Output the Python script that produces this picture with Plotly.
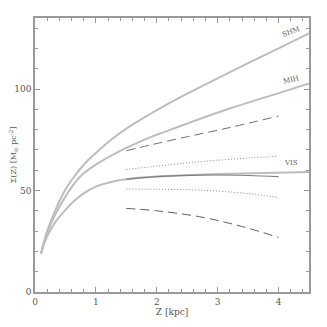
import plotly.graph_objects as go

# Main model curves
z_shm = [0.1, 0.15, 0.2, 0.33, 0.5, 0.66, 0.8, 1.0, 1.25, 1.5, 1.89, 2.14, 2.5, 3.21, 4.0, 4.5]
sig_shm = [19, 25, 30, 40, 50.5, 57.5, 62.7, 68.5, 75, 80.5, 87.7, 92, 97.7, 108.5, 120, 127.4]

z_mih = [0.1, 0.15, 0.2, 0.33, 0.5, 0.66, 0.8, 1.0, 1.32, 1.5, 1.89, 2.14, 2.5, 3.21, 4.0, 4.5]
sig_mih = [19, 24.5, 29, 38, 47, 54, 58.5, 62.8, 68.3, 71, 76.2, 79, 83, 90.5, 98, 102.8]

z_vis = [0.1, 0.15, 0.2, 0.33, 0.5, 0.66, 0.8, 1.0, 1.32, 1.5, 2.14, 3.04, 4.5]
sig_vis = [19, 23.8, 27.5, 34.3, 40.5, 45.3, 48.6, 51.9, 54.7, 55.6, 57.1, 58.1, 59.1]

# Observed band (1.5 - 4 kpc)
z_obs = [1.5, 2.0, 2.7, 3.5, 4.0]
sig_obs = [55.5, 56.8, 57.6, 57.4, 56.8]
sig_dot_hi = [60.4, 62, 64.2, 66, 67]
sig_dot_lo = [50.7, 50.6, 50.2, 48.5, 46.6]

z_dash_hi = [1.5, 1.89, 2.5, 3.21, 4.0]
sig_dash_hi = [69.6, 72.4, 76.5, 81.1, 86.7]
z_dash_lo = [1.5, 2.0, 2.7, 3.37, 4.0]
sig_dash_lo = [41.2, 40, 37.1, 32.5, 26.9]

curve_col = '#bdbdbd'
font_fam = 'DejaVu Serif'

fig = go.Figure()

for zz, ss in [(z_shm, sig_shm), (z_mih, sig_mih), (z_vis, sig_vis)]:
    fig.add_trace(go.Scatter(x=zz, y=ss, mode='lines',
                             line=dict(color=curve_col, width=2, shape='spline', smoothing=1.0),
                             showlegend=False, hoverinfo='skip'))

fig.add_trace(go.Scatter(x=z_dash_hi, y=sig_dash_hi, mode='lines',
                         line=dict(color='#707070', width=1, dash='9px,5px', shape='spline'),
                         showlegend=False))
fig.add_trace(go.Scatter(x=z_dash_lo, y=sig_dash_lo, mode='lines',
                         line=dict(color='#606060', width=1, dash='9px,5px', shape='spline'),
                         showlegend=False))
fig.add_trace(go.Scatter(x=z_obs, y=sig_dot_hi, mode='lines',
                         line=dict(color='#8a8a8a', width=1, dash='1px,2px', shape='spline'),
                         showlegend=False))
fig.add_trace(go.Scatter(x=z_obs, y=sig_dot_lo, mode='lines',
                         line=dict(color='#8a8a8a', width=1, dash='1px,2px', shape='spline'),
                         showlegend=False))
fig.add_trace(go.Scatter(x=z_obs, y=sig_obs, mode='lines',
                         line=dict(color='#808080', width=1.2, shape='spline'),
                         showlegend=False))

labels = [('SHM', 4.2, 128, -20), ('MIH', 4.2, 104.5, -13), ('VIS', 4.2, 63.5, 0)]
for txt, lx, ly, ang in labels:
    fig.add_annotation(x=lx, y=ly, text=txt, showarrow=False, textangle=ang,
                       font=dict(family=font_fam, size=7, color='#666666'))

axis_common = dict(showline=True, linecolor='#9a9a9a', linewidth=1.5, mirror='ticks',
                   ticks='inside', ticklen=5, tickcolor='#9a9a9a', showgrid=False,
                   zeroline=False, automargin=False,
                   tickfont=dict(family=font_fam, size=9, color='#555555'))

fig.update_xaxes(range=[0, 4.5], dtick=1, tick0=0,
                 minor=dict(dtick=0.2, ticklen=3, ticks='inside', tickcolor='#9a9a9a'),
                 title=dict(text='Z [kpc]', font=dict(family=font_fam, size=9, color='#555555'),
                            standoff=2),
                 **axis_common)
fig.update_yaxes(range=[0, 135], dtick=50, tick0=0,
                 minor=dict(dtick=10, ticklen=3, ticks='inside', tickcolor='#9a9a9a'),
                 title=dict(text='Σ(Z) [M<sub>⊙</sub> pc<sup>-2</sup>]',
                            font=dict(family=font_fam, size=8, color='#555555'), standoff=2),
                 **axis_common)

# page body has an 8px margin, so the figure is shrunk to keep the plot box in place
fig.update_layout(width=319, height=319,
                  margin=dict(l=27, r=18, t=10, b=35),
                  plot_bgcolor='white', paper_bgcolor='white')

fig.write_html("out.html")
